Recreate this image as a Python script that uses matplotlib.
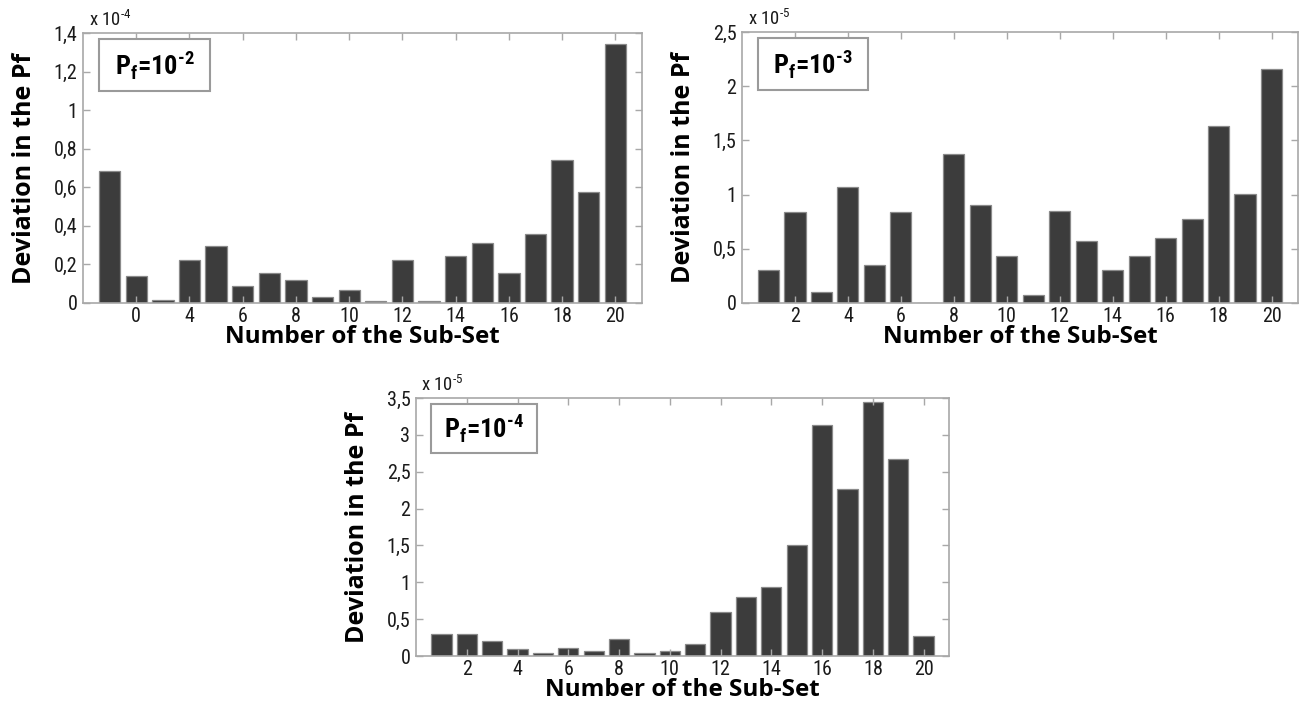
import matplotlib
matplotlib.use("Agg")
import matplotlib.pyplot as plt
from matplotlib.patches import Rectangle

plt.rcParams['font.family'] = ['Roboto Condensed', 'Liberation Sans Narrow', 'Roboto', 'DejaVu Sans']
plt.rcParams['mathtext.fontset'] = 'custom'
plt.rcParams['mathtext.rm'] = 'Roboto Condensed'
plt.rcParams['mathtext.bf'] = 'Roboto Condensed:bold'

subsets = list(range(1, 21))

pf2_values = [0.685, 0.142, 0.017, 0.225, 0.294, 0.086, 0.154, 0.121, 0.029, 0.067,
              0.010, 0.225, 0.010, 0.242, 0.309, 0.154, 0.356, 0.743, 0.577, 1.341]
pf3_values = [0.302, 0.838, 0.100, 1.073, 0.348, 0.838, 0.0, 1.372, 0.903, 0.432,
              0.074, 0.845, 0.576, 0.302, 0.432, 0.601, 0.771, 1.634, 1.005, 2.158]
pf4_values = [0.303, 0.303, 0.199, 0.100, 0.036, 0.104, 0.072, 0.231, 0.036, 0.072,
              0.158, 0.600, 0.800, 0.932, 1.500, 3.130, 2.260, 3.440, 2.670, 0.267]

xtick_pos = [2, 4, 6, 8, 10, 12, 14, 16, 18, 20]
xtick_labels_pf2 = ['0', '4', '6', '8', '10', '12', '14', '16', '18', '20']
xtick_labels_std = ['2', '4', '6', '8', '10', '12', '14', '16', '18', '20']

yticks_pf2 = [0, 0.2, 0.4, 0.6, 0.8, 1.0, 1.2, 1.4]
ylabels_pf2 = ['0', '0,2', '0,4', '0,6', '0,8', '1', '1,2', '1,4']
yticks_pf3 = [0, 0.5, 1.0, 1.5, 2.0, 2.5]
ylabels_pf3 = ['0', '0,5', '1', '1,5', '2', '2,5']
yticks_pf4 = [0, 0.5, 1.0, 1.5, 2.0, 2.5, 3.0, 3.5]
ylabels_pf4 = ['0', '0,5', '1', '1,5', '2', '2,5', '3', '3,5']

panels = [
    dict(rect=[83/1300, 1-303/704, 559/1300, 270/704], vals=pf2_values,
         xl=xtick_labels_pf2, yt=yticks_pf2, yl=ylabels_pf2, ymax=1.4,
         exp='4', pf='2'),
    dict(rect=[742/1300, 1-303/704, 556/1300, 271/704], vals=pf3_values,
         xl=xtick_labels_std, yt=yticks_pf3, yl=ylabels_pf3, ymax=2.5,
         exp='5', pf='3'),
    dict(rect=[416/1300, 1-656/704, 533/1300, 258/704], vals=pf4_values,
         xl=xtick_labels_std, yt=yticks_pf4, yl=ylabels_pf4, ymax=3.5,
         exp='5', pf='4'),
]

HY = '\u2010'
fig = plt.figure(figsize=(13, 7.04), dpi=100)
spine_c = '#a8a8a8'
for p in panels:
    ax = fig.add_axes(p['rect'])
    ax.bar(subsets, p['vals'], width=0.8, color='#3c3c3c', edgecolor='#8a8a8a', linewidth=0.9)
    ax.set_xlim(0, 21)
    ax.set_ylim(0, p['ymax'])
    ax.set_xticks(xtick_pos)
    ax.set_xticklabels(p['xl'])
    ax.set_yticks(p['yt'])
    ax.set_yticklabels(p['yl'])
    ax.tick_params(direction='in', top=True, right=True, length=5, width=1,
                   color=spine_c, labelsize=14.5, labelcolor='#1a1a1a', pad=4)
    ax.tick_params(axis='x', pad=3)
    for s in ax.spines.values():
        s.set_color(spine_c)
        s.set_linewidth(1.2)
    ax.set_xlabel('Number of the Sub-Set', fontsize=17.5, fontweight='bold',
                  family=['Open Sans', 'Roboto', 'DejaVu Sans'], labelpad=-1)
    ax.set_ylabel('Deviation in the Pf', fontsize=18, fontweight='bold',
                  family=['Open Sans', 'Roboto', 'DejaVu Sans'], labelpad=12)
    ax.text(0.01, 1.012, 'x 10$^{' + HY + p['exp'] + '}$', transform=ax.transAxes,
            fontsize=13.5, ha='left', va='bottom', color='#1a1a1a')
    ax.add_patch(Rectangle((0.029, 0.785), 0.198, 0.193, transform=ax.transAxes,
                           facecolor='white', edgecolor='#9a9a9a', linewidth=1.5, zorder=5))
    ax.text(0.128, 0.88, 'P$_\\mathbf{f}$=10$^{\\mathbf{' + HY + p['pf'] + '}}$',
            transform=ax.transAxes, fontsize=19, fontweight='bold',
            ha='center', va='center', zorder=6)

fig.savefig('out.png', dpi=100)
